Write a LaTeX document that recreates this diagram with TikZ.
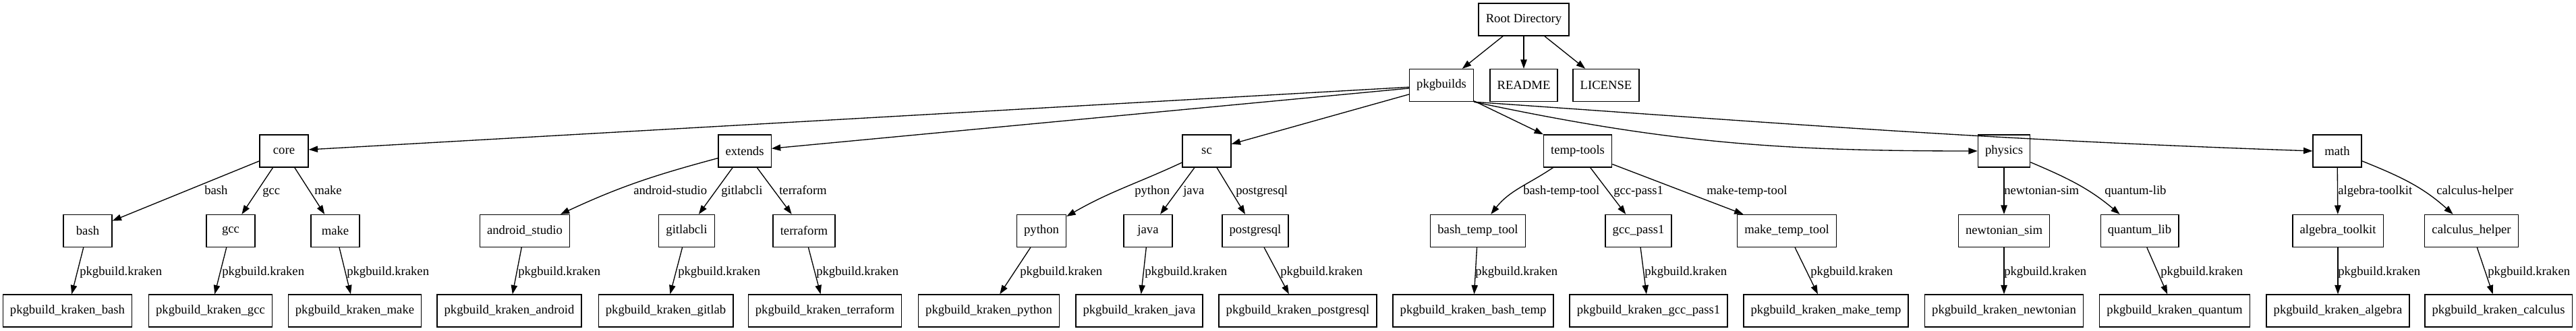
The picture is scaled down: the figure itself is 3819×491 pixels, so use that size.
\documentclass[tikz,border=0pt]{standalone}
\usepackage{fontspec}
\setmainfont{Liberation Serif}
\usetikzlibrary{arrows.meta}

\begin{document}
\begin{tikzpicture}[x=0.75pt,y=0.75pt,
		dirbox/.style={draw,line width=1pt,minimum width=54pt,minimum height=36pt,inner xsep=8pt,inner ysep=0pt,font=\fontsize{14}{16}\selectfont},
		lbl/.style={anchor=base west,inner sep=0pt,font=\fontsize{14}{16}\selectfont},
		link/.style={line width=1pt,-{Triangle[length=10pt,width=7pt]}}]
		\useasboundingbox (0,0) rectangle (3819,-491);
		%
		%root
		\node[dirbox] (root) at (2259,-29) {Root Directory};
		\node[dirbox] (pkgbuilds) at (2137,-126.5) {pkgbuilds};
		\node[dirbox] (readme) at (2259,-126.5) {README};
		\node[dirbox] (license) at (2381,-126.5) {LICENSE};
		\draw[link] (root) -- (pkgbuilds);
		\draw[link] (root) -- (readme);
		\draw[link] (root) -- (license);
		%
		% groups
		\node[dirbox] (core) at (421,-224) {core};
		\node[dirbox] (extends) at (1104,-224) {extends};
		\node[dirbox] (sc) at (1789,-224) {sc};
		\node[dirbox] (temptools) at (2339,-224) {temp-tools};
		\node[dirbox] (physics) at (2971,-224) {physics};
		\node[dirbox] (math) at (3465,-224) {math};
		\draw[link] (pkgbuilds) -- (core);
		\draw[link] (pkgbuilds) -- (extends);
		\draw[link] (pkgbuilds) -- (sc);
		\draw[link] (pkgbuilds) -- (temptools);
		\draw[link] (pkgbuilds.south east) to[out=-12,in=180] (physics.west);
		\draw[link] (pkgbuilds.south east) to[out=-4,in=178] (math.west);
		%
		% core
		\node[dirbox] (bash) at (130,-342.5) {bash};
		\node[dirbox] (gcc) at (342,-342.5) {gcc};
		\node[dirbox] (make) at (497,-342.5) {make};
		\node[dirbox] (kbash) at (100,-461) {pkgbuild\_kraken\_bash};
		\node[dirbox] (kgcc) at (312,-461) {pkgbuild\_kraken\_gcc};
		\node[dirbox] (kmake) at (526,-461) {pkgbuild\_kraken\_make};
		\draw[link] (core) -- (bash);
		\draw[link] (core) -- (gcc);
		\draw[link] (core) -- (make);
		\draw[link] (bash) -- (kbash);
		\draw[link] (gcc) -- (kgcc);
		\draw[link] (make) -- (kmake);
		\node[lbl] (lbash) at (303,-289) {bash};
		\node[lbl] (lgcc) at (389,-289) {gcc};
		\node[lbl] (lmake) at (466,-289) {make};
		\node[lbl] (lkbash) at (118,-408) {pkgbuild.kraken};
		\node[lbl] (lkgcc) at (329,-408) {pkgbuild.kraken};
		\node[lbl] (lkmake) at (514,-408) {pkgbuild.kraken};
		%
		% extends
		\node[dirbox] (android) at (778,-342.5) {android\_studio};
		\node[dirbox] (gitlabcli) at (1018,-342.5) {gitlabcli};
		\node[dirbox] (terraform) at (1192,-342.5) {terraform};
		\node[dirbox] (kandroid) at (755,-461) {pkgbuild\_kraken\_android};
		\node[dirbox] (kgitlab) at (987,-461) {pkgbuild\_kraken\_gitlab};
		\node[dirbox] (kterraform) at (1223,-461) {pkgbuild\_kraken\_terraform};
		\draw[link] (extends) to[out=195,in=25] (android);
		\draw[link] (extends) -- (gitlabcli);
		\draw[link] (extends) -- (terraform);
		\draw[link] (android) -- (kandroid);
		\draw[link] (gitlabcli) -- (kgitlab);
		\draw[link] (terraform) -- (kterraform);
		\node[lbl] (landroid) at (939,-289) {android-studio};
		\node[lbl] (lgitlabcli) at (1069,-289) {gitlabcli};
		\node[lbl] (lterraform) at (1155,-289) {terraform};
		\node[lbl] (lkandroid) at (768,-408) {pkgbuild.kraken};
		\node[lbl] (lkgitlab) at (1005,-408) {pkgbuild.kraken};
		\node[lbl] (lkterraform) at (1210,-408) {pkgbuild.kraken};
		%
		% sc
		\node[dirbox] (python) at (1544,-342.5) {python};
		\node[dirbox] (java) at (1702,-342.5) {java};
		\node[dirbox] (postgresql) at (1861,-342.5) {postgresql};
		\node[dirbox] (kpython) at (1466,-461) {pkgbuild\_kraken\_python};
		\node[dirbox] (kjava) at (1689,-461) {pkgbuild\_kraken\_java};
		\node[dirbox] (kpostgresql) at (1924,-461) {pkgbuild\_kraken\_postgresql};
		\draw[link] (sc) to[out=205,in=30] (python);
		\draw[link] (sc) -- (java);
		\draw[link] (sc) -- (postgresql);
		\draw[link] (python) -- (kpython);
		\draw[link] (java) -- (kjava);
		\draw[link] (postgresql) -- (kpostgresql);
		\node[lbl] (lpython) at (1682,-289) {python};
		\node[lbl] (ljava) at (1754,-289) {java};
		\node[lbl] (lpostgresql) at (1832,-289) {postgresql};
		\node[lbl] (lkpython) at (1512,-408) {pkgbuild.kraken};
		\node[lbl] (lkjava) at (1697,-408) {pkgbuild.kraken};
		\node[lbl] (lkpostgresql) at (1898,-408) {pkgbuild.kraken};
		%
		% temp-tools
		\node[dirbox] (bashtemp) at (2191,-342.5) {bash\_temp\_tool};
		\node[dirbox] (gccpass) at (2429,-342.5) {gcc\_pass1};
		\node[dirbox] (maketemp) at (2649,-342.5) {make\_temp\_tool};
		\node[dirbox] (kbashtemp) at (2184,-461) {pkgbuild\_kraken\_bash\_temp};
		\node[dirbox] (kgccpass) at (2444,-461) {pkgbuild\_kraken\_gcc\_pass1};
		\node[dirbox] (kmaketemp) at (2707,-461) {pkgbuild\_kraken\_make\_temp};
		\draw[link] (temptools) to[out=214,in=52] (bashtemp);
		\draw[link] (temptools) -- (gccpass);
		\draw[link] (temptools) -- (maketemp);
		\draw[link] (bashtemp) -- (kbashtemp);
		\draw[link] (gccpass) -- (kgccpass);
		\draw[link] (maketemp) -- (kmaketemp);
		\node[lbl] (lbashtemp) at (2258,-289) {bash-temp-tool};
		\node[lbl] (lgccpass) at (2392,-289) {gcc-pass1};
		\node[lbl] (lmaketemp) at (2530,-289) {make-temp-tool};
		\node[lbl] (lkbashtemp) at (2187,-408) {pkgbuild.kraken};
		\node[lbl] (lkgccpass) at (2438,-408) {pkgbuild.kraken};
		\node[lbl] (lkmaketemp) at (2684,-408) {pkgbuild.kraken};
		%
		% physics
		\node[dirbox] (newtonian) at (2971,-342.5) {newtonian\_sim};
		\node[dirbox] (quantum) at (3172,-342.5) {quantum\_lib};
		\node[dirbox] (knewtonian) at (2971,-461) {pkgbuild\_kraken\_newtonian};
		\node[dirbox] (kquantum) at (3224,-461) {pkgbuild\_kraken\_quantum};
		\draw[link] (physics) -- (newtonian);
		\draw[link] (physics) to[out=-23,in=140] (quantum);
		\draw[link] (newtonian) -- (knewtonian);
		\draw[link] (quantum) -- (kquantum);
		\node[lbl] (lnewtonian) at (2971,-289) {newtonian-sim};
		\node[lbl] (lquantum) at (3120,-289) {quantum-lib};
		\node[lbl] (lknewtonian) at (2971,-408) {pkgbuild.kraken};
		\node[lbl] (lkquantum) at (3203,-408) {pkgbuild.kraken};
		%
		% math
		\node[dirbox] (algebra) at (3466,-342.5) {algebra\_toolkit};
		\node[dirbox] (calculus) at (3664,-342.5) {calculus\_helper};
		\node[dirbox] (kalgebra) at (3466,-461) {pkgbuild\_kraken\_algebra};
		\node[dirbox] (kcalculus) at (3704,-461) {pkgbuild\_kraken\_calculus};
		\draw[link] (math) -- (algebra);
		\draw[link] (math) to[out=-22,in=138] (calculus);
		\draw[link] (algebra) -- (kalgebra);
		\draw[link] (calculus) -- (kcalculus);
		\node[lbl] (lalgebra) at (3466,-289) {algebra-toolkit};
		\node[lbl] (lcalculus) at (3612,-289) {calculus-helper};
		\node[lbl] (lkalgebra) at (3466,-408) {pkgbuild.kraken};
		\node[lbl] (lkcalculus) at (3688,-408) {pkgbuild.kraken};
	\end{tikzpicture}
\end{document}
